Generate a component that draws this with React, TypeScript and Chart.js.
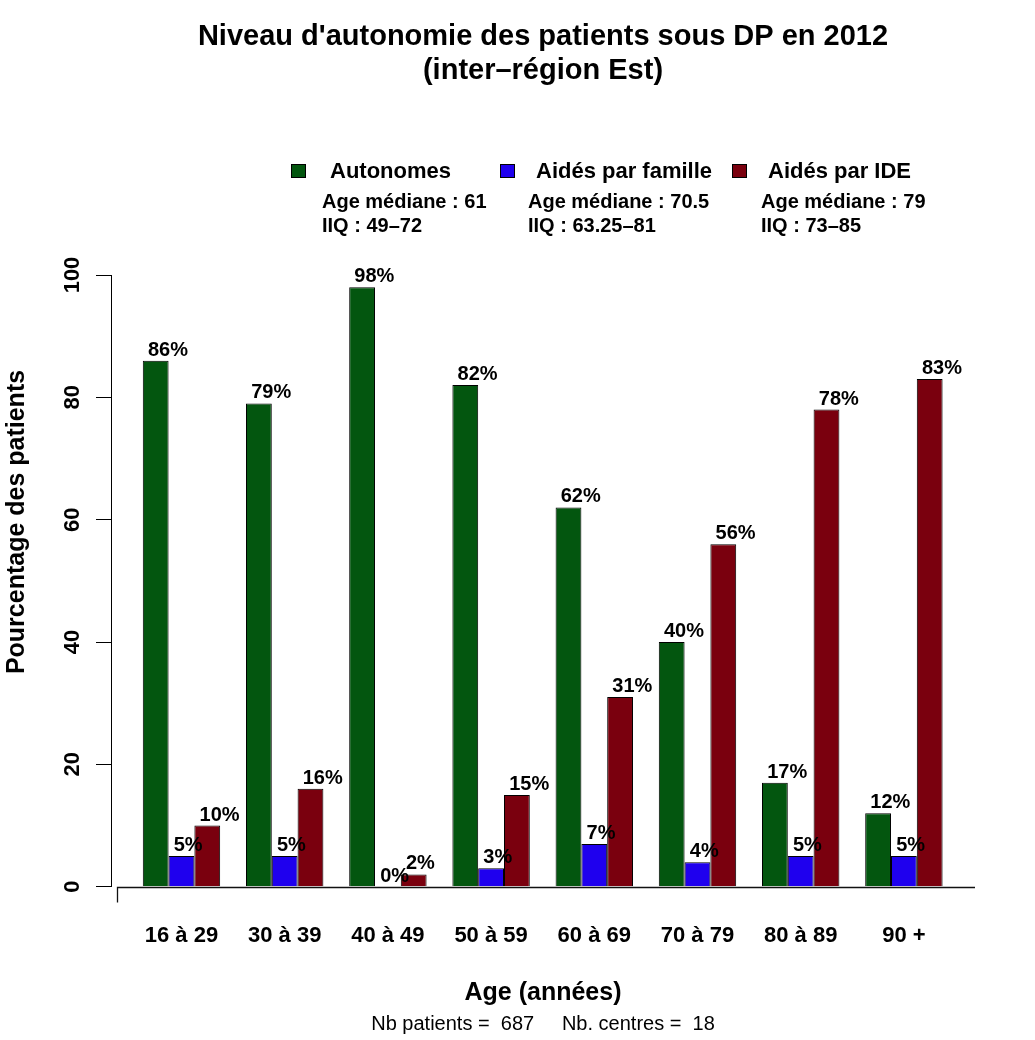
import React, { useEffect, useRef } from 'react';
import { Chart, registerables } from 'chart.js';

Chart.register(...registerables);

const categories = ['16 à 29', '30 à 39', '40 à 49', '50 à 59', '60 à 69', '70 à 79', '80 à 89', '90 +'];
const autonomes = [86, 79, 98, 82, 62, 40, 17, 12];
const aidesFamille = [5, 5, 0, 3, 7, 4, 5, 5];
const aidesIDE = [10, 16, 2, 15, 31, 56, 78, 83];
const seriesNames = ['Autonomes', 'Aidés par famille', 'Aidés par IDE'];
const seriesColors = ['#03560f', '#1f00ee', '#7a000e'];
const ageMediane = ['Age médiane : 61', 'Age médiane : 70.5', 'Age médiane : 79'];
const iiq = ['IIQ : 49–72', 'IIQ : 63.25–81', 'IIQ : 73–85'];
const titleLines = ["Niveau d'autonomie des patients sous DP en 2012", '(inter–région Est)'];
const xTitle = 'Age (années)';
const yTitle = 'Pourcentage des patients';
const footer = 'Nb patients =  687     Nb. centres =  18';

const FAMILY = '"Liberation Sans", Arial, Helvetica, sans-serif';

const overlay = {
  id: 'overlay',
  afterDraw(chart: any) {
    const { ctx, chartArea } = chart;
    ctx.save();
    ctx.fillStyle = '#000';
    ctx.strokeStyle = '#000';
    const cx = (chartArea.left + chartArea.right) / 2;

    // Title
    ctx.font = `bold 29px ${FAMILY}`;
    ctx.textAlign = 'center';
    ctx.textBaseline = 'middle';
    ctx.fillText(titleLines[0], cx, 37);
    ctx.fillText(titleLines[1], cx, 71);

    // Legend
    const sqX = [291, 500, 732];
    const labX = [330, 536, 768];
    const subX = [322, 528, 761];
    for (let k = 0; k < 3; k++) {
      ctx.fillStyle = seriesColors[k];
      ctx.fillRect(sqX[k], 164, 15, 14);
      ctx.lineWidth = 1;
      ctx.strokeStyle = '#000';
      ctx.strokeRect(sqX[k] + 0.5, 164.5, 14, 13);
      ctx.fillStyle = '#000';
      ctx.textAlign = 'left';
      ctx.textBaseline = 'middle';
      ctx.font = `bold 22px ${FAMILY}`;
      ctx.fillText(seriesNames[k], labX[k], 172);
      ctx.font = `bold 20px ${FAMILY}`;
      ctx.fillText(ageMediane[k], subX[k], 202);
      ctx.fillText(iiq[k], subX[k], 226);
    }

    // Value labels
    ctx.font = `bold 20px ${FAMILY}`;
    ctx.textAlign = 'left';
    ctx.textBaseline = 'alphabetic';
    chart.data.datasets.forEach((ds: any, di: number) => {
      const meta = chart.getDatasetMeta(di);
      meta.data.forEach((bar: any, i: number) => {
        const w = bar.width;
        ctx.fillText(`${ds.data[i].y}%`, bar.x - 0.3 * w, bar.y - 5);
      });
    });

    // X axis line with tick at the origin
    const by = Math.round(chartArea.bottom) + 0.5;
    const x0 = Math.round(chartArea.left + 6) + 0.5;
    ctx.lineWidth = 1.3;
    ctx.strokeStyle = '#111';
    ctx.beginPath();
    ctx.moveTo(x0, by + 15);
    ctx.lineTo(x0, by);
    ctx.lineTo(chartArea.right, by);
    ctx.stroke();

    // Y title
    ctx.save();
    ctx.translate(17, 522);
    ctx.rotate(-Math.PI / 2);
    ctx.font = `bold 25px ${FAMILY}`;
    ctx.textAlign = 'center';
    ctx.textBaseline = 'middle';
    ctx.fillText(yTitle, 0, 0);
    ctx.restore();

    // Footer
    ctx.font = `20px ${FAMILY}`;
    ctx.textAlign = 'center';
    ctx.textBaseline = 'middle';
    ctx.fillText(footer, cx, 1024);

    ctx.restore();
  },
};

export default function App() {
  const canvasRef = useRef<HTMLCanvasElement | null>(null);

  useEffect(() => {
    document.body.style.margin = '0';
    const canvas = canvasRef.current;
    if (!canvas) return;
    Chart.defaults.font.family = FAMILY;
    Chart.defaults.color = '#000';

    const series = [autonomes, aidesFamille, aidesIDE];
    const chart = new Chart(canvas, {
      type: 'bar',
      data: {
        datasets: series.map((vals, k) => ({
          label: seriesNames[k],
          data: vals.map((v, i) => ({ x: i, y: v })),
          backgroundColor: seriesColors[k],
          borderColor: '#000',
          borderWidth: 1,
          categoryPercentage: 0.75,
          barPercentage: 1,
        })),
      },
      options: {
        animation: false,
        responsive: false,
        devicePixelRatio: 1,
        layout: { padding: { top: 275, right: 60, left: 0, bottom: 0 } },
        plugins: {
          legend: { display: false },
          title: { display: false },
          tooltip: { enabled: false },
        },
        scales: {
          x: {
            type: 'linear',
            offset: false,
            min: -0.683,
            max: 7.689,
            grid: { display: false, offset: false },
            border: { display: false },
            afterBuildTicks: (scale: any) => {
              scale.ticks = categories.map((_, i) => ({ value: i }));
            },
            afterFit: (scale: any) => {
              scale.height = 1040 - 886.7;
            },
            ticks: {
              autoSkip: false,
              maxRotation: 0,
              minRotation: 0,
              padding: 28,
              font: { size: 22, weight: 'bold' },
              callback: (v: any) => categories[v as number] ?? '',
            },
            title: {
              display: true,
              text: xTitle,
              font: { size: 25, weight: 'bold' },
              padding: { top: 0, bottom: 32 },
            },
          },
          y: {
            min: 0,
            max: 100,
            grid: {
              display: true,
              drawOnChartArea: false,
              drawTicks: true,
              tickLength: 15,
              color: '#000',
            },
            border: { display: true, color: '#000', width: 1 },
            afterFit: (scale: any) => {
              scale.width = 111;
            },
            ticks: {
              stepSize: 20,
              autoSkip: false,
              minRotation: 90,
              maxRotation: 90,
              crossAlign: 'center',
              padding: 5,
              font: { size: 22, weight: 'bold' },
            },
          },
        },
      },
      plugins: [overlay],
    } as any);

    return () => {
      chart.destroy();
    };
  }, []);

  return (
    <div style={{ width: 1035, height: 1040 }}>
      <canvas ref={canvasRef} width={1035} height={1040} style={{ display: 'block' }} />
    </div>
  );
}
